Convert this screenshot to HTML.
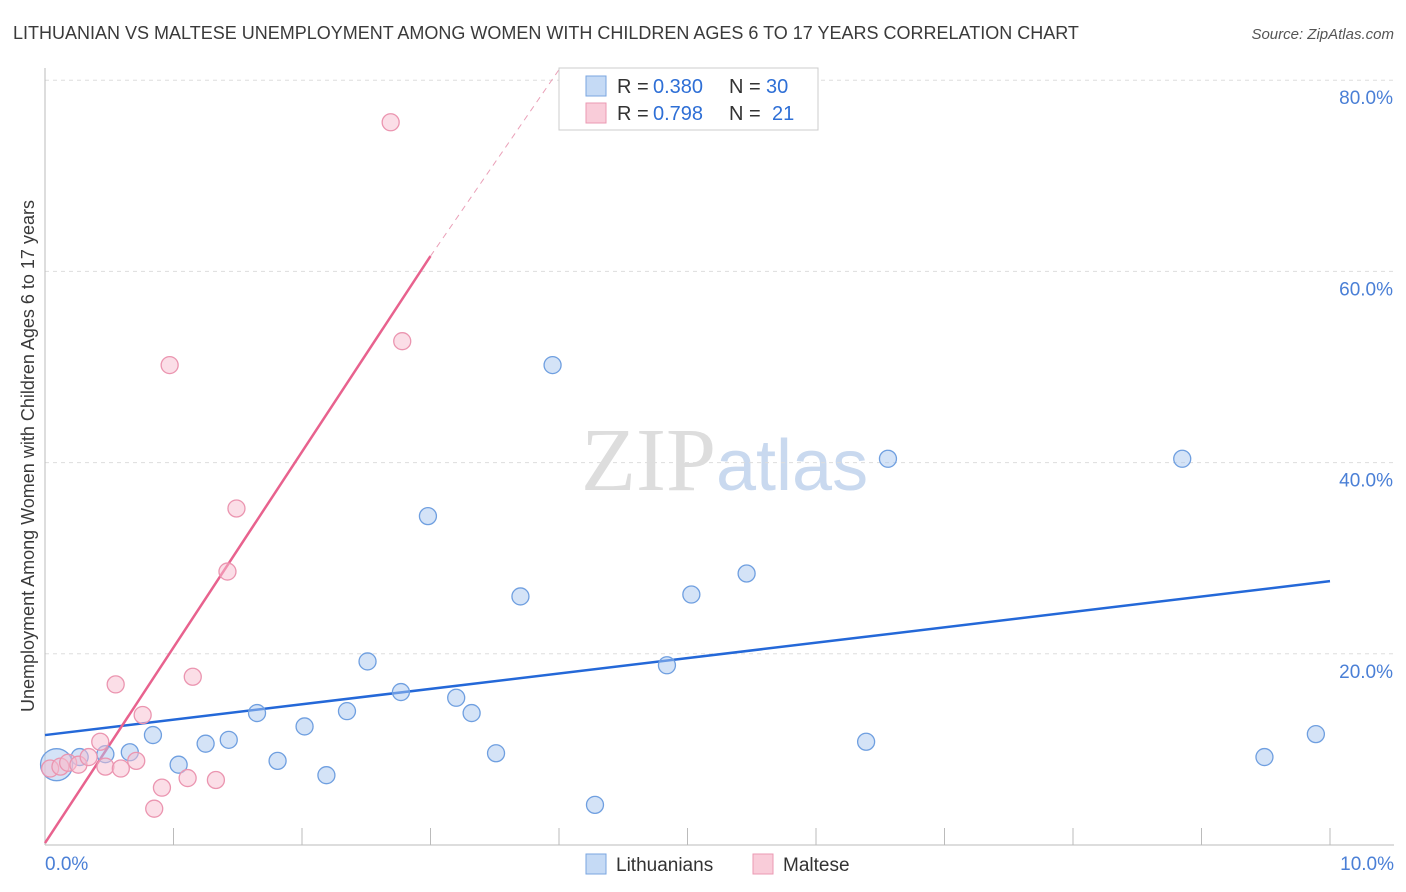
<!DOCTYPE html>
<html><head><meta charset="utf-8"><style>
body{margin:0;background:#fff;font-family:"Liberation Sans",sans-serif}
svg{display:block}
</style></head><body>
<svg id="c" width="1406" height="892" xmlns="http://www.w3.org/2000/svg">
<text x="13" y="39" font-size="18" fill="#3a3a3a">LITHUANIAN VS MALTESE UNEMPLOYMENT AMONG WOMEN WITH CHILDREN AGES 6 TO 17 YEARS CORRELATION CHART</text>
<text x="1394" y="39" font-size="15" fill="#555" text-anchor="end" font-style="italic">Source: ZipAtlas.com</text>
<text x="716" y="490" font-size="90" fill="#ddd" text-anchor="end" font-family="Liberation Serif">ZIP</text>
<text x="716" y="490" font-size="72" fill="#c9d9ef">atlas</text>
<text transform="translate(34,456) rotate(-90)" font-size="18" fill="#3a3a3a" text-anchor="middle">Unemployment Among Women with Children Ages 6 to 17 years</text>
<g id="grid"></g><g id="lines"></g><g id="pts"></g>
<g>
<rect x="559" y="68" width="259" height="62" fill="#fff" stroke="#ccc"/>
<rect x="586" y="76" width="20" height="20" fill="#c5daf5" stroke="#7aa6e0"/>
<rect x="586" y="103" width="20" height="20" fill="#f9ccd9" stroke="#eb9ab3"/>
<text x="617" y="93" font-size="20" fill="#333">R =</text><text x="653" y="93" font-size="20" fill="#2e6fd6">0.380</text>
<text x="729" y="93" font-size="20" fill="#333">N =</text><text x="766" y="93" font-size="20" fill="#2e6fd6">30</text>
<text x="617" y="120" font-size="20" fill="#333">R =</text><text x="653" y="120" font-size="20" fill="#2e6fd6">0.798</text>
<text x="729" y="120" font-size="20" fill="#333">N =</text><text x="772" y="120" font-size="20" fill="#2e6fd6">21</text>
</g>
<g>
<rect x="586" y="854" width="20" height="20" fill="#c5daf5" stroke="#7aa6e0"/>
<text x="616" y="871" font-size="19" fill="#333">Lithuanians</text>
<rect x="753" y="854" width="20" height="20" fill="#f9ccd9" stroke="#eb9ab3"/>
<text x="783" y="871" font-size="19" fill="#333">Maltese</text>
</g>
</svg>
<script>
const blueX=[0.09,0.27,0.47,0.66,0.84,1.04,1.25,1.43,1.65,1.81,2.02,2.19,2.35,2.51,2.77,2.98,3.2,3.32,3.51,3.7,3.95,4.28,4.84,5.03,5.46,6.39,6.56,8.85,9.49,9.89];
const blueY=[8.4,9.2,9.5,9.7,11.5,8.4,10.6,11.0,13.8,8.8,12.4,7.3,14.0,19.2,16.0,34.4,15.4,13.8,9.6,26.0,50.2,4.2,18.8,26.2,28.4,10.8,40.4,40.4,9.2,11.6];
const pinkX=[0.04,0.12,0.18,0.26,0.34,0.43,0.47,0.55,0.59,0.71,0.76,0.85,0.91,0.97,1.11,1.15,1.33,1.42,1.49,2.69,2.78];
const pinkY=[8.0,8.2,8.6,8.4,9.2,10.8,8.2,16.8,8.0,8.8,13.6,3.8,6.0,50.2,7.0,17.6,6.8,28.6,35.2,75.6,52.7];
const xTicks=[1,2,3,4,5,6,7,8,9,10],yTicks=[20,40,60,80];
const blueLine=[0,11.5,10,27.6],pinkLine=[0,0.2,3.0,61.6,4.0,81.1];
const X=v=>45+v*128.5,Y=v=>845-v*9.56;
const ns="http://www.w3.org/2000/svg";
function mk(t,a,p){const e=document.createElementNS(ns,t);for(const k in a)e.setAttribute(k,a[k]);document.getElementById(p).appendChild(e);return e;}
yTicks.forEach(t=>{const l=mk('line',{x1:45,x2:1394,y1:Y(t),y2:Y(t),stroke:'#ddd','stroke-dasharray':'4,4'},'grid');


const tx=mk('text',{x:1393,y:Y(t)+24,'font-size':19,fill:'#4a7fd6','text-anchor':'end'},'grid');tx.textContent=t.toFixed(1)+'%';

});
mk('line',{x1:45,x2:45,y1:68,y2:845,stroke:'#bbb'},'grid');
mk('line',{x1:45,x2:1394,y1:845,y2:845,stroke:'#bbb'},'grid');
xTicks.forEach(t=>{const l=mk('line',{x1:X(t),x2:X(t),y1:828,y2:845,stroke:'#bbb'},'grid');

});
[[0,'0.0%','start',45],[10,'10.0%','end',1394]].forEach(a=>{const t=mk('text',{x:a[3],y:870,'font-size':19,fill:'#4a7fd6','text-anchor':a[2]},'grid');t.textContent=a[1];

});
const bl=mk('line',{x1:X(blueLine[0]),y1:Y(blueLine[1]),x2:X(blueLine[2]),y2:Y(blueLine[3]),stroke:'#2468d8','stroke-width':2.5},'lines');


const pl=mk('line',{x1:X(pinkLine[0]),y1:Y(pinkLine[1]),x2:X(pinkLine[2]),y2:Y(pinkLine[3]),stroke:'#e8628e','stroke-width':2.5},'lines');


const pd=mk('line',{x1:X(pinkLine[2]),y1:Y(pinkLine[3]),x2:X(pinkLine[4]),y2:Y(pinkLine[5]),stroke:'#eaa0b8','stroke-width':1,'stroke-dasharray':'6,5'},'lines');


blueX.forEach((x,i)=>{const c=mk('circle',{cx:X(x),cy:Y(blueY[i]),r:i==0?16:8.5,fill:'rgba(170,200,240,0.5)',stroke:'#6f9fe0','stroke-width':1.3},'pts');

});
pinkX.forEach((x,i)=>{const c=mk('circle',{cx:X(x),cy:Y(pinkY[i]),r:8.5,fill:'rgba(248,190,208,0.5)',stroke:'#eb95b0','stroke-width':1.3},'pts');

});
</script>
</body></html>
